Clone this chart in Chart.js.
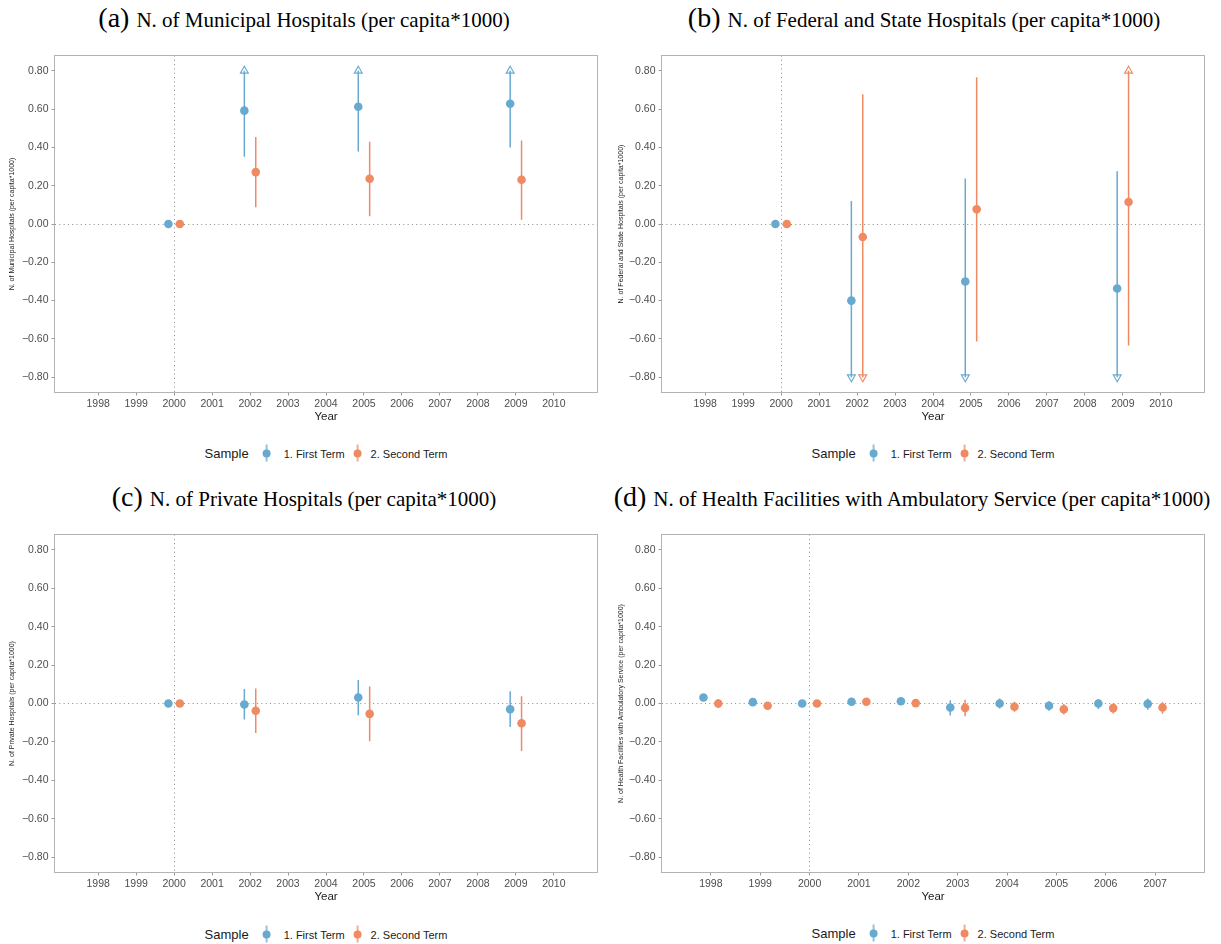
<!DOCTYPE html>
<html>
<head>
<meta charset="utf-8">
<script src="https://cdn.jsdelivr.net/npm/chart.js@4.4.1/dist/chart.umd.min.js"></script>
<style>
  body { margin: 0; width: 1221px; height: 944px; background: #fff; position: relative; overflow: hidden;
         font-family: "Liberation Sans", Arial, sans-serif; }
  canvas { position: absolute; }
  .title { position: absolute; width: 800px; text-align: center; white-space: nowrap; color: #000;
           font-family: "Liberation Serif", "Times New Roman", serif; font-size: 28px; line-height: 34px; }
  .title span { font-size: 21px; }
  .legend { position: absolute; transform: translate(-50%, -50%); display: flex; align-items: center;
            white-space: nowrap; color: #1a1a1a; font-size: 11px; }
  .legend .lt { font-size: 13px; margin-right: 14px; }
  .key { width: 8px; height: 17px; position: relative; margin-right: 9px; }
  .key.first { margin-right: 13px; }
  .legend .lab1 { margin-right: 9px; }
  .key::before { content: ""; position: absolute; left: 3.25px; top: 0; width: 1.5px; height: 17px;
                 background: var(--c); opacity: .7; }
  .key::after { content: ""; position: absolute; left: 0; top: 4.5px; width: 8px; height: 8px;
                border-radius: 50%; background: var(--c); }
</style>
</head>
<body>

<div class="title" style="left:-96px;top:0.5px">(a) <span>N. of Municipal Hospitals (per capita*1000)</span></div>
<div class="title" style="left:524px;top:0.5px">(b) <span>N. of Federal and State Hospitals (per capita*1000)</span></div>
<div class="title" style="left:-96px;top:480px">(c) <span>N. of Private Hospitals (per capita*1000)</span></div>
<div class="title" style="left:512px;top:480px">(d) <span>N. of Health Facilities with Ambulatory Service (per capita*1000)</span></div>

<canvas id="pa" width="610" height="400" style="left:0;top:40px"></canvas>
<canvas id="pb" width="611" height="400" style="left:610px;top:40px"></canvas>
<canvas id="pc" width="610" height="400" style="left:0;top:520px"></canvas>
<canvas id="pd" width="611" height="400" style="left:610px;top:520px"></canvas>

<div class="legend" style="left:326px;top:453px"><span class="lt">Sample</span><span class="key first" style="--c:#67a9cf"></span><span class="lab1">1. First Term</span><span class="key" style="--c:#ef8a62"></span><span>2. Second Term</span></div>
<div class="legend" style="left:933px;top:453px"><span class="lt">Sample</span><span class="key first" style="--c:#67a9cf"></span><span class="lab1">1. First Term</span><span class="key" style="--c:#ef8a62"></span><span>2. Second Term</span></div>
<div class="legend" style="left:326px;top:934px"><span class="lt">Sample</span><span class="key first" style="--c:#67a9cf"></span><span class="lab1">1. First Term</span><span class="key" style="--c:#ef8a62"></span><span>2. Second Term</span></div>
<div class="legend" style="left:933px;top:933px"><span class="lt">Sample</span><span class="key first" style="--c:#67a9cf"></span><span class="lab1">1. First Term</span><span class="key" style="--c:#ef8a62"></span><span>2. Second Term</span></div>

<script>
// tick labels
const yearTicks = [1998, 1999, 2000, 2001, 2002, 2003, 2004, 2005, 2006, 2007, 2008, 2009, 2010]
const yearTicksD = [1998, 1999, 2000, 2001, 2002, 2003, 2004, 2005, 2006, 2007]
const yTicks = [-0.8, -0.6, -0.4, -0.2, 0, 0.2, 0.4, 0.6, 0.8]

// (a) municipal hospitals
const yearsA = [2000, 2002, 2005, 2009]
const firstA = [0, 0.592, 0.612, 0.628]
const firstALo = [0, 0.351, 0.378, 0.400]
const firstAHi = [0, 0.8, 0.8, 0.8]
const secondA = [0, 0.271, 0.236, 0.231]
const secondALo = [0, 0.087, 0.040, 0.022]
const secondAHi = [0, 0.455, 0.430, 0.436]

// (b) federal and state hospitals
const yearsB = [2000, 2002, 2005, 2009]
const firstB = [0, -0.400, -0.300, -0.337]
const firstBLo = [0, -0.8, -0.8, -0.8]
const firstBHi = [0, 0.120, 0.238, 0.276]
const secondB = [0, -0.068, 0.077, 0.115]
const secondBLo = [0, -0.8, -0.613, -0.634]
const secondBHi = [0, 0.677, 0.766, 0.8]

// (c) private hospitals
const yearsC = [2000, 2002, 2005, 2009]
const firstC = [0, -0.005, 0.031, -0.030]
const firstCLo = [0, -0.083, -0.061, -0.123]
const firstCHi = [0, 0.075, 0.122, 0.064]
const secondC = [0, -0.038, -0.054, -0.103]
const secondCLo = [0, -0.153, -0.197, -0.247]
const secondCHi = [0, 0.078, 0.089, 0.038]

// (d) health facilities with ambulatory service
const yearsD = [1998, 1999, 2000, 2001, 2002, 2003, 2004, 2005, 2006, 2007]
const firstD = [0.031, 0.007, 0, 0.009, 0.012, -0.021, 0.000, -0.012, 0.000, -0.002]
const firstDLo = [0.022, -0.002, 0, 0.002, 0.004, -0.063, -0.026, -0.038, -0.028, -0.033]
const firstDHi = [0.040, 0.016, 0, 0.016, 0.020, 0.017, 0.026, 0.012, 0.024, 0.026]
const secondD = [0.000, -0.012, 0, 0.009, 0.002, -0.023, -0.017, -0.030, -0.024, -0.021]
const secondDLo = [-0.024, -0.022, 0, 0.002, -0.006, -0.066, -0.043, -0.057, -0.052, -0.054]
const secondDHi = [0.024, -0.002, 0, 0.016, 0.010, 0.019, 0.009, -0.003, 0.000, 0.007]

const blue = '#67a9cf'
const orange = '#ef8a62'
const dodge = 0.15
const clip = 0.8
const sans = '"Liberation Sans", Arial, sans-serif'

const dots = (years, est, shift) => years.map((yr, i) => ({ x: yr + shift, y: est[i] }))

// segments broken by null points
const bars = (years, lo, hi, shift) => {
  const pts = []
  years.forEach((yr, i) => {
    pts.push({ x: yr + shift, y: lo[i] }, { x: yr + shift, y: hi[i] }, { x: yr + shift, y: null })
  })
  return pts
}

// open triangles where the interval was cut at +-0.8
const arrows = (years, lo, hi, shift) => {
  const pts = []
  years.forEach((yr, i) => {
    if (hi[i] >= clip) pts.push({ x: yr + shift, y: clip, up: true })
    if (lo[i] <= -clip) pts.push({ x: yr + shift, y: -clip, up: false })
  })
  return pts
}

const boxPlugin = {
  id: 'box',
  beforeDatasetsDraw(chart) {
    const { ctx, chartArea: a } = chart
    ctx.save()
    ctx.strokeStyle = '#b3b3b3'
    ctx.lineWidth = 1
    ctx.strokeRect(a.left, a.top, a.right - a.left, a.bottom - a.top)
    ctx.restore()
  },
}

function drawPanel(id, p) {
  const series = [
    { color: blue, est: p.first, lo: p.firstLo, hi: p.firstHi, shift: -dodge },
    { color: orange, est: p.second, lo: p.secondLo, hi: p.secondHi, shift: dodge },
  ]
  const datasets = []
  series.forEach((s) => {
    datasets.push({
      data: dots(p.years, s.est, s.shift),
      backgroundColor: s.color, borderWidth: 0, pointRadius: 4.3,
    })
  })
  series.forEach((s) => {
    datasets.push({
      data: arrows(p.years, s.lo, s.hi, s.shift),
      pointStyle: 'triangle', pointRadius: 4.6, borderColor: s.color, borderWidth: 1.1,
      backgroundColor: 'rgba(0,0,0,0)',
      rotation: (ctx) => (ctx.raw && ctx.raw.up ? 0 : 180),
    })
  })
  series.forEach((s) => {
    datasets.push({
      data: bars(p.years, s.lo, s.hi, s.shift),
      showLine: true, spanGaps: false, pointRadius: 0,
      borderColor: s.color, borderWidth: 1.5,
    })
  })

  new Chart(document.getElementById(id), {
    type: 'scatter',
    data: { datasets },
    plugins: [boxPlugin],
    options: {
      responsive: false,
      animation: false,
      events: [],
      layout: { padding: { top: p.padTop, right: p.padRight, left: 0, bottom: 0 } },
      plugins: { legend: { display: false }, tooltip: { enabled: false } },
      scales: {
        x: {
          type: 'linear', min: p.xMin, max: p.xMax,
          afterBuildTicks: (axis) => { axis.ticks = p.xTicks.map((v) => ({ value: v })) },
          afterFit: (axis) => { axis.height = p.xAxisH },
          grid: {
            color: (c) => (c.tick && c.tick.value === 2000 ? '#8c8c8c' : 'rgba(0,0,0,0)'),
            lineWidth: 1, tickLength: 3, tickColor: '#9a9a9a', tickWidth: 1,
          },
          border: { display: false, dash: [1, 3.3] },
          ticks: {
            color: '#4d4d4d', font: { family: sans, size: 10.5 }, padding: 2,
            maxRotation: 0, autoSkip: false, callback: (v) => String(v),
          },
          title: {
            display: true, text: 'Year', color: '#1a1a1a',
            font: { family: sans, size: 11.5 }, padding: { top: 0, bottom: 16 },
          },
        },
        y: {
          type: 'linear', min: -0.88, max: 0.88,
          afterBuildTicks: (axis) => { axis.ticks = yTicks.map((v) => ({ value: v })) },
          afterFit: (axis) => { axis.width = p.yAxisW },
          grid: {
            color: (c) => (c.tick && c.tick.value === 0 ? '#8c8c8c' : 'rgba(0,0,0,0)'),
            lineWidth: 1, tickLength: 3, tickColor: '#9a9a9a', tickWidth: 1,
          },
          border: { display: false, dash: [1, 3.3] },
          ticks: {
            color: '#4d4d4d', font: { family: sans, size: 10.5 }, padding: 3,
            callback: (v) => (v < -1e-9 ? '\u2212' : '') + Math.abs(v).toFixed(2),
          },
          title: {
            display: true, text: p.yTitle, color: '#1a1a1a',
            font: { family: sans, size: 7 }, padding: { top: p.yTitlePad, bottom: 0 },
          },
        },
      },
    },
  })
}

const left = { xMin: 1996.85, xMax: 2011.15, xTicks: yearTicks, yAxisW: 54.5, padRight: 12.5, yTitlePad: 7.8 }
const right = { xMin: 1996.85, xMax: 2011.15, xTicks: yearTicks, yAxisW: 51.5, padRight: 16.5, yTitlePad: 6.8 }

drawPanel('pa', {
  ...left, padTop: 15.5, xAxisH: 47.5,
  yTitle: 'N. of Municipal Hospitals (per capita*1000)',
  years: yearsA, first: firstA, firstLo: firstALo, firstHi: firstAHi,
  second: secondA, secondLo: secondALo, secondHi: secondAHi,
})
drawPanel('pb', {
  ...right, padTop: 15.5, xAxisH: 47.5,
  yTitle: 'N. of Federal and State Hospitals (per capita*1000)',
  years: yearsB, first: firstB, firstLo: firstBLo, firstHi: firstBHi,
  second: secondB, secondLo: secondBLo, secondHi: secondBHi,
})
drawPanel('pc', {
  ...left, padTop: 14.5, xAxisH: 47.5,
  yTitle: 'N. of Private Hospitals (per capita*1000)',
  years: yearsC, first: firstC, firstLo: firstCLo, firstHi: firstCHi,
  second: secondC, secondLo: secondCLo, secondHi: secondCHi,
})
drawPanel('pd', {
  ...right, xMin: 1997, xMax: 2008, xTicks: yearTicksD, padTop: 14.5, xAxisH: 47.5,
  yTitle: 'N. of Health Facilities with Ambulatory Service (per capita*1000)',
  years: yearsD, first: firstD, firstLo: firstDLo, firstHi: firstDHi,
  second: secondD, secondLo: secondDLo, secondHi: secondDHi,
})
</script>
</body>
</html>
